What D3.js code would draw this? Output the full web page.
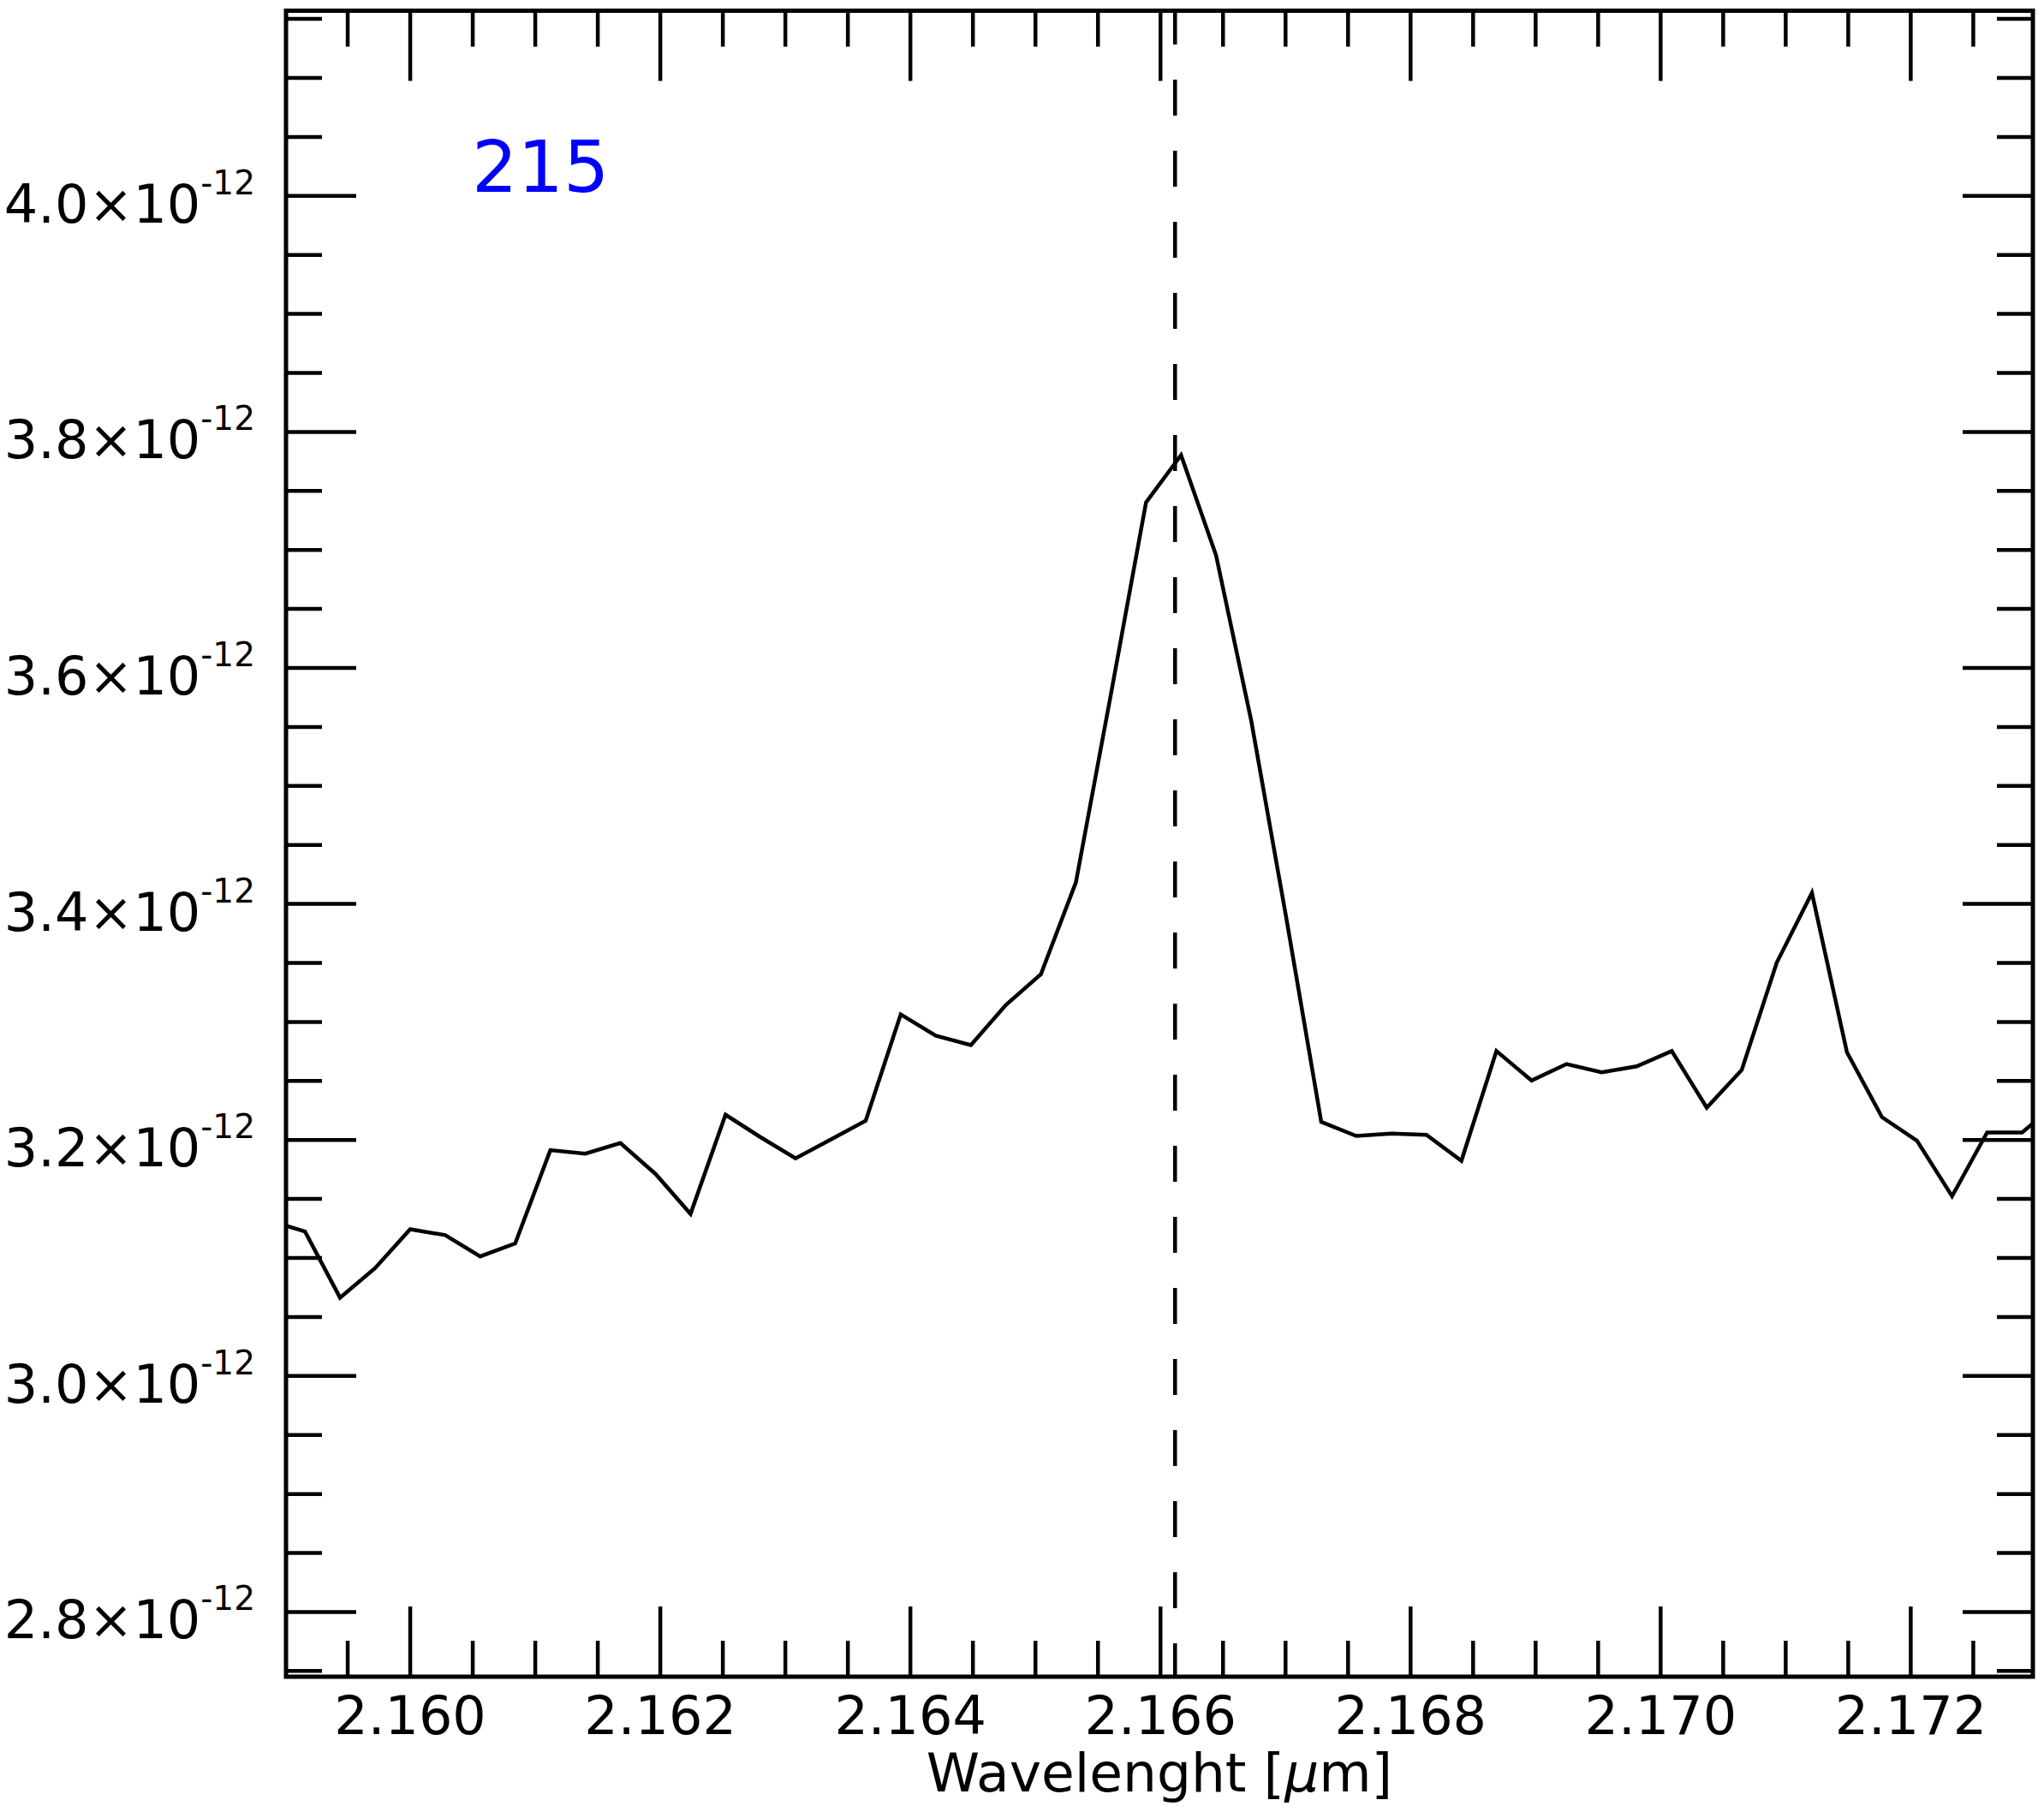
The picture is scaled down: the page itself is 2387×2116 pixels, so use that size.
<!DOCTYPE html>
<html>
<head>
<meta charset="utf-8">
<script src="https://cdn.jsdelivr.net/npm/d3@7"></script>
<style>
  body { margin: 0; background: #fff; }
  svg { display: block; font-family: "DejaVu Sans", sans-serif; }
</style>
</head>
<body>
<script>
// wavelength of each spectral pixel [micron]
const wavelength = [
  2.158882, 2.159162, 2.159442, 2.159722, 2.160003, 2.160283, 2.160563, 2.160843,
  2.161124, 2.161404, 2.161684, 2.161964, 2.162245, 2.162525, 2.162805, 2.163085,
  2.163366, 2.163646, 2.163926, 2.164206, 2.164487, 2.164767, 2.165047, 2.165327,
  2.165608, 2.165888, 2.166168, 2.166448, 2.166729, 2.167009, 2.167289, 2.167569,
  2.167850, 2.168130, 2.168410, 2.168690, 2.168971, 2.169251, 2.169531, 2.169811,
  2.170092, 2.170372, 2.170652, 2.170932, 2.171213, 2.171493, 2.171773, 2.172053,
  2.172334, 2.172614, 2.172894, 2.173174
];
// flux, in units of 1e-12
const flux = [
  3.131, 3.122, 3.066, 3.091, 3.124, 3.119, 3.101, 3.112,
  3.191, 3.188, 3.197, 3.171, 3.137, 3.221, 3.202, 3.184,
  3.200, 3.216, 3.306, 3.288, 3.280, 3.314, 3.340, 3.418,
  3.578, 3.740, 3.780, 3.695, 3.555, 3.388, 3.215, 3.203,
  3.205, 3.204, 3.182, 3.275, 3.250, 3.264, 3.257, 3.262,
  3.275, 3.227, 3.259, 3.350, 3.409, 3.274, 3.219, 3.199,
  3.152, 3.206, 3.206, 3.231
];
const xMajorTicks = [2.160, 2.162, 2.164, 2.166, 2.168, 2.170, 2.172];
const xTickLabels = ['2.160', '2.162', '2.164', '2.166', '2.168', '2.170', '2.172'];
const yMajorTicks = [2.8, 3.0, 3.2, 3.4, 3.6, 3.8, 4.0];
const yTickLabels = ['2.8', '3.0', '3.2', '3.4', '3.6', '3.8', '4.0'];
const yExponent = '-12';
const xDomain = [2.15901, 2.17298];
const yDomain = [2.7448, 4.1566];
const lineCenter = 2.16612; // Br gamma
const spectrumLabel = '215';

document.addEventListener('DOMContentLoaded', () => {
  drawSpectrum();
});

const drawSpectrum = () => {
  const dimension = {width: 2387, height: 2116};
  const frame = {left: 334, right: 2374, top: 12.5, bottom: 1958};
  const major = 82, minor = 42;

  const data = wavelength.map((w, i) => ({w: w, f: flux[i]}));

  const xScale = d3.scaleLinear()
        .domain(xDomain)
        .range([frame.left, frame.right]);

  const yScale = d3.scaleLinear()
        .domain(yDomain)
        .range([frame.bottom, frame.top]);

  const svg = d3.select('body')
        .append('svg')
        .attr('width', dimension.width)
        .attr('height', dimension.height);

  svg.append('defs').append('clipPath')
    .attr('id', 'plot-clip')
    .append('rect')
    .attr('x', frame.left)
    .attr('y', frame.top)
    .attr('width', frame.right - frame.left)
    .attr('height', frame.bottom - frame.top);

  const xMinor = xScale.ticks(28).filter(t => !xMajorTicks.some(m => Math.abs(m - t) < 1e-7));
  const yMinor = yScale.ticks(28).filter(t => !yMajorTicks.some(m => Math.abs(m - t) < 1e-7));

  const styleAxis = (g) => {
    g.select('.domain').remove();
    g.selectAll('line').attr('stroke', '#000').attr('stroke-width', 4.5);
    g.attr('font-family', '"DejaVu Sans", sans-serif').attr('font-size', 62);
  };

  // ticks on all four sides, pointing inward
  const sides = [
    {axis: d3.axisBottom, pos: `translate(0,${frame.bottom})`, scale: xScale, majors: xMajorTicks, minors: xMinor},
    {axis: d3.axisTop, pos: `translate(0,${frame.top})`, scale: xScale, majors: xMajorTicks, minors: xMinor},
    {axis: d3.axisLeft, pos: `translate(${frame.left},0)`, scale: yScale, majors: yMajorTicks, minors: yMinor},
    {axis: d3.axisRight, pos: `translate(${frame.right},0)`, scale: yScale, majors: yMajorTicks, minors: yMinor}
  ];
  sides.forEach(s => {
    svg.append('g')
      .attr('transform', s.pos)
      .call(s.axis(s.scale).tickValues(s.minors).tickSize(-minor).tickFormat(''))
      .call(styleAxis);
    svg.append('g')
      .attr('transform', s.pos)
      .call(s.axis(s.scale).tickValues(s.majors).tickSize(-major).tickFormat(''))
      .call(styleAxis);
  });

  // bottom tick labels
  svg.append('g')
    .attr('transform', `translate(0,${frame.bottom})`)
    .call(d3.axisBottom(xScale).tickValues(xMajorTicks).tickSize(0).tickPadding(23)
          .tickFormat((d, i) => xTickLabels[i]))
    .call(styleAxis)
    .selectAll('text').attr('fill', '#000');

  // left tick labels with exponent
  const yLab = svg.append('g')
    .attr('transform', `translate(${frame.left},0)`)
    .call(d3.axisLeft(yScale).tickValues(yMajorTicks).tickSize(0).tickPadding(36).tickFormat(''))
    .call(styleAxis);
  yLab.selectAll('.tick text').each(function(d, i) {
    const t = d3.select(this).attr('dy', 31).attr('fill', '#000');
    t.append('tspan').text(`${yTickLabels[i]}\u00d710`);
    t.append('tspan').attr('dy', -33).attr('font-size', 39).text(yExponent);
  });

  // frame
  svg.append('rect')
    .attr('x', frame.left)
    .attr('y', frame.top)
    .attr('width', frame.right - frame.left)
    .attr('height', frame.bottom - frame.top)
    .attr('fill', 'none')
    .attr('stroke', '#000')
    .attr('stroke-width', 5);

  // line centre marker
  svg.append('line')
    .attr('x1', xScale(lineCenter))
    .attr('x2', xScale(lineCenter))
    .attr('y1', yScale(yDomain[1]))
    .attr('y2', yScale(yDomain[0]))
    .attr('stroke', '#000')
    .attr('stroke-width', 4.5)
    .attr('stroke-dasharray', '42,41')
    .attr('stroke-dashoffset', 2.5);

  const line = d3.line()
        .x(d => xScale(d.w))
        .y(d => yScale(d.f));

  svg.append('path')
    .datum(data)
    .attr('clip-path', 'url(#plot-clip)')
    .attr('fill', 'none')
    .attr('stroke', '#000')
    .attr('stroke-width', 4.5)
    .attr('stroke-linejoin', 'miter')
    .attr('d', line);

  svg.append('text')
    .attr('x', 551)
    .attr('y', 224)
    .attr('font-size', 84)
    .attr('fill', '#0000ff')
    .text(spectrumLabel);

  const title = svg.append('text')
    .attr('x', (frame.left + frame.right) / 2)
    .attr('y', 2092)
    .attr('text-anchor', 'middle')
    .attr('font-size', 63)
    .attr('fill', '#000');
  title.append('tspan').text('Wavelenght [');
  title.append('tspan').attr('font-style', 'italic').text('\u03bc');
  title.append('tspan').text('m]');
};
</script>
</body>
</html>
